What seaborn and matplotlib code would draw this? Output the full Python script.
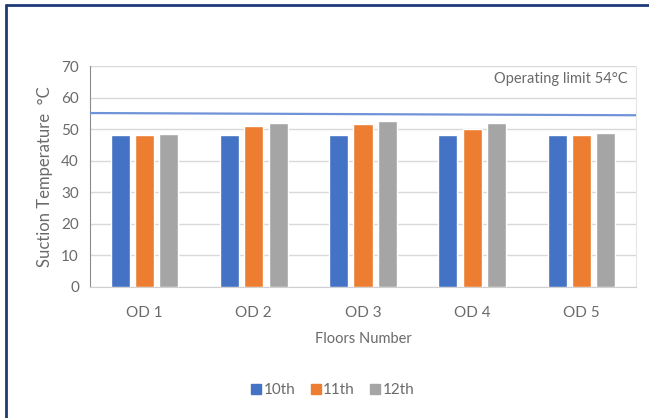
import numpy as np
import pandas as pd
import seaborn as sns
import matplotlib.pyplot as plt
from matplotlib.lines import Line2D

# data
floors = ['OD 1', 'OD 2', 'OD 3', 'OD 4', 'OD 5']
series = ['10th', '11th', '12th']
t_10th = [48.3, 48.3, 48.3, 48.3, 48.3]
t_11th = [48.3, 50.9, 51.5, 50.1, 48.3]
t_12th = [48.6, 51.8, 52.7, 51.9, 48.7]
limit_start, limit_end = 55.1, 54.4
yticks = [0, 10, 20, 30, 40, 50, 60, 70]

df = pd.DataFrame({'Floor': floors * 3,
                   'Series': np.repeat(series, len(floors)),
                   'Temp': t_10th + t_11th + t_12th})

palette = ['#4472C4', '#ED7D31', '#A5A5A5']
txt = '#6a6a6a'

sns.set_style('white')
plt.rcParams['font.family'] = ['Lato', 'DejaVu Sans']

fig = plt.figure(figsize=(6.49, 4.18), dpi=100)
ax = fig.add_axes([90/649, 1 - 287/418, (636 - 90)/649, (287 - 66)/418])

sns.barplot(data=df, x='Floor', y='Temp', hue='Series', palette=palette,
            saturation=1, width=0.67, gap=0.22, ax=ax, legend=False, zorder=3)

# operating limit line
ax.plot([-0.5, len(floors) - 0.5], [limit_start, limit_end],
        color='#6f93d6', lw=1.6, zorder=4)
ax.text(len(floors) - 0.58, 65.8, 'Operating limit 54°C', ha='right', va='center',
        fontsize=10.5, color=txt)

ax.set_xlim(-0.5, len(floors) - 0.5)
ax.set_ylim(0, 70)
ax.set_yticks(yticks)
ax.yaxis.grid(True, color='#d9d9d9', lw=1)
ax.set_axisbelow(True)
ax.tick_params(axis='both', colors=txt, labelsize=11, length=0, pad=8)
ax.tick_params(axis='x', pad=14)
ax.set_xlabel('Floors Number', color=txt, fontsize=10.5, labelpad=8)
ax.set_ylabel('Suction Temperature  °C', color=txt, fontsize=12, labelpad=6)
ax.spines['top'].set_visible(False)
ax.spines['left'].set_color('#8c8c8c')
ax.spines['bottom'].set_color('#d0d0d0')
ax.spines['right'].set_color('#e6e6e6')

handles = [Line2D([], [], marker='s', ls='', color=c, markersize=7) for c in palette]
fig.legend(handles, series, loc='center', bbox_to_anchor=(333/649, 1 - 390/418),
           ncol=3, frameon=False, fontsize=11, labelcolor=txt,
           handlelength=0.6, handletextpad=0.2, columnspacing=1.0)

# outer border (top and left)
fig.add_artist(Line2D([6/649, 1], [1 - 5/418, 1 - 5/418], color='#1f3a7a', lw=2))
fig.add_artist(Line2D([6/649, 6/649], [0, 1 - 5/418], color='#1f3a7a', lw=2))

fig.savefig('out.png', dpi=100)
